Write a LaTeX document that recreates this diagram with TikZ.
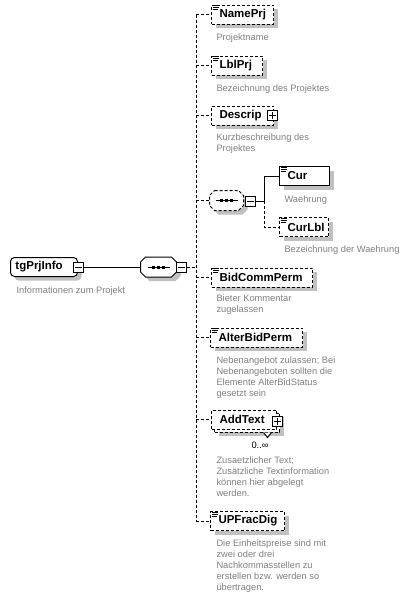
\documentclass[tikz,border=0pt]{standalone}
\usepackage{fontspec}
\setmainfont{Liberation Sans}
\usetikzlibrary{shadows,calc}
\definecolor{shd}{RGB}{192,192,192}
\definecolor{dsc}{RGB}{128,128,128}
\newcommand\elt[2]{\makebox[#1pt][l]{\hspace{8pt}#2}}
\newcommand\simpleicon[1]{%
  \draw[line width=0.8pt] ([shift={(2,1)}]#1.north west) -- ++(6,0);
  \draw[line width=0.8pt] ([shift={(2,3)}]#1.north west) -- ++(6,0);
  \draw[line width=0.8pt] ([shift={(2,5)}]#1.north west) -- ++(5,0);}
\newcommand\minusbox[2]{%
  \node[sbox] (#1) at #2 {};
  \draw ([xshift=2pt]#1.west) -- ([xshift=-2pt]#1.east);}
\newcommand\plusbox[2]{%
  \node[sbox] (#1) at #2 {};
  \draw ([xshift=2pt]#1.west) -- ([xshift=-2pt]#1.east);
  \draw ([yshift=-2pt]#1.north) -- ([yshift=2pt]#1.south);}
\newcommand\octo[4]{%
  \path[#4] ([shift={(5+#2,#3)}]#1.north west) -- ([shift={(-5+#2,#3)}]#1.north east)
    -- ([shift={(#2,5+#3)}]#1.north east) -- ([shift={(#2,-5+#3)}]#1.south east)
    -- ([shift={(-5+#2,#3)}]#1.south east) -- ([shift={(5+#2,#3)}]#1.south west)
    -- ([shift={(#2,-5+#3)}]#1.south west) -- ([shift={(#2,5+#3)}]#1.north west) -- cycle;}
\newcommand\seqdots[1]{%
  \draw ([xshift=-11pt]#1.center) -- ([xshift=11pt]#1.center);
  \foreach \dx in {-5,0,5}{\fill ([xshift=\dx pt]#1.center) +(-1.5,-1.5) rectangle +(1.5,1.5);}}
\begin{document}
\begin{tikzpicture}[x=1pt,y=-1pt,line width=1pt,
  shad/.style={drop shadow={shadow xshift=4pt,shadow yshift=-4pt,fill=shd,opacity=1}},
  elem/.style={draw,fill=white,minimum height=19pt,inner sep=0pt,anchor=west,
    font=\fontsize{11.5}{13}\selectfont\bfseries},
  opt/.style={dash pattern=on 3pt off 2pt},
  desc/.style={anchor=north west,inner sep=0pt,align=left,text=dsc,
    font=\fontsize{9.3}{11}\selectfont},
  sbox/.style={draw,fill=white,minimum size=10pt,inner sep=0pt},
  seqnode/.style={rectangle,draw=none,minimum width=35pt,minimum height=19pt,inner sep=0pt},
  grp/.style={draw,fill=white,rounded corners=4pt,minimum height=19pt,inner sep=0pt,
    anchor=west,font=\fontsize{11.5}{13}\selectfont\bfseries}
]
\useasboundingbox (0,0) rectangle (405,598);
\fill[white] (0,0) rectangle (405,598);

% vertical dashed line
\coordinate (vtop) at (196,14.5);
\coordinate (vbot) at (196,521);
\draw[opt] (vtop) -- (vbot);

% root group
\node[grp,shad] (tg) at (10,267) {\makebox[67pt][l]{\hspace{5pt}tgPrjInfo}};
\minusbox{m0}{(78,267)}
\node[desc] (dtg) at (16,286) {\rule{0pt}{7pt}Informationen zum Projekt};

% main sequence
\node[seqnode] (seq1) at (158.5,267) {};
\octo{seq1}{4}{4}{fill=shd}
\octo{seq1}{0}{0}{draw,fill=white}
\seqdots{seq1}
\minusbox{m1}{(181,267)}
\draw (m0.east) -- (seq1.west);
\draw[opt] (m1.east) -- (m1.east -| vtop);

% NamePrj
\node[elem,opt,shad] (NamePrj) at (211,14.5) {\elt{62}{NamePrj}};
\simpleicon{NamePrj}
\draw[opt] (NamePrj.west -| vtop) -- (NamePrj.west);
\node[desc] (dNamePrj) at (216,33) {\rule{0pt}{7pt}Projektname};

% LblPrj
\node[elem,opt,shad] (LblPrj) at (211,65.5) {\elt{51}{LblPrj}};
\simpleicon{LblPrj}
\draw[opt] (LblPrj.west -| vtop) -- (LblPrj.west);
\node[desc] (dLblPrj) at (216,84) {\rule{0pt}{7pt}Bezeichnung des Projektes};

% Descrip
\node[elem,opt,shad] (Descrip) at (211,115.5) {\elt{62}{Descrip}};
\plusbox{pDescrip}{(272.5,115.5)}
\draw[opt] (Descrip.west -| vtop) -- (Descrip.west);
\node[desc] (dDescrip) at (216,133) {\rule{0pt}{7pt}Kurzbeschreibung des\\Projektes};

% inner sequence
\node[seqnode,minimum width=33pt] (seq2) at (226.5,200.5) {};
\octo{seq2}{4}{4}{fill=shd}
\octo{seq2}{0}{0}{draw,fill=white,opt}
\seqdots{seq2}
\minusbox{m2}{(250,201)}
\draw[opt] (seq2.west -| vtop) -- (seq2.west);
\coordinate (j2) at (264,201);
\draw (m2.east) -- (j2);

% Cur
\node[elem,shad] (Cur) at (279,176) {\elt{50}{Cur}};
\simpleicon{Cur}
\draw (j2) |- (Cur.west);
\node[desc] (dCur) at (284,195) {\rule{0pt}{7pt}Waehrung};

% CurLbl
\node[elem,opt,shad] (CurLbl) at (279,227) {\elt{49}{CurLbl}};
\simpleicon{CurLbl}
\draw[opt] (j2) |- (CurLbl.west);
\node[desc] (dCurLbl) at (284,245) {\rule{0pt}{7pt}Bezeichnung der Waehrung};

% BidCommPerm
\node[elem,opt,shad] (BidCommPerm) at (211,277.5) {\elt{101}{BidCommPerm}};
\simpleicon{BidCommPerm}
\draw[opt] (BidCommPerm.west -| vtop) -- (BidCommPerm.west);
\node[desc] (dBidCommPerm) at (216,294) {\rule{0pt}{7pt}Bieter Kommentar\\zugelassen};

% AlterBidPerm
\node[elem,opt,shad] (AlterBidPerm) at (210,337.5) {\elt{92}{AlterBidPerm}};
\simpleicon{AlterBidPerm}
\draw[opt] (AlterBidPerm.west -| vtop) -- (AlterBidPerm.west);
\node[desc] (dAlterBidPerm) at (216,356) {\rule{0pt}{7pt}Nebenangebot zulassen; Bei\\Nebenangeboten sollten die\\Elemente AlterBidStatus\\gesetzt sein};

% AddText (multiple)
\node[elem,opt,shad] (AddTextB) at (214,422.5) {\makebox[65pt]{}};
\draw[fill=white] ([xshift=16.5pt]AddTextB.south) -- ++(4,5) -- ++(4,-5);
\node[elem,opt] (AddText) at (211,419.5) {\elt{65}{AddText}};
\plusbox{pAddText}{(277,421)}
\draw[opt] (AddText.west -| vtop) -- (AddText.west);
\node[anchor=base west,inner sep=0pt,font=\fontsize{9.3}{11}\selectfont] (occ) at (251,448) {0..∞};
\node[desc] (dAddText) at (216,456) {\rule{0pt}{7pt}Zusaetzlicher Text;\\Zusätzliche Textinformation\\können hier abgelegt\\werden.};

% UPFracDig
\node[elem,opt,shad] (UPFracDig) at (210,521) {\elt{74}{UPFracDig}};
\simpleicon{UPFracDig}
\draw[opt] (UPFracDig.west -| vtop) -- (UPFracDig.west);
\node[desc] (dUPFracDig) at (216,539) {\rule{0pt}{7pt}Die Einheitspreise sind mit\\zwei oder drei\\Nachkommasstellen zu\\erstellen bzw. werden so\\übertragen.};
\end{tikzpicture}
\end{document}
